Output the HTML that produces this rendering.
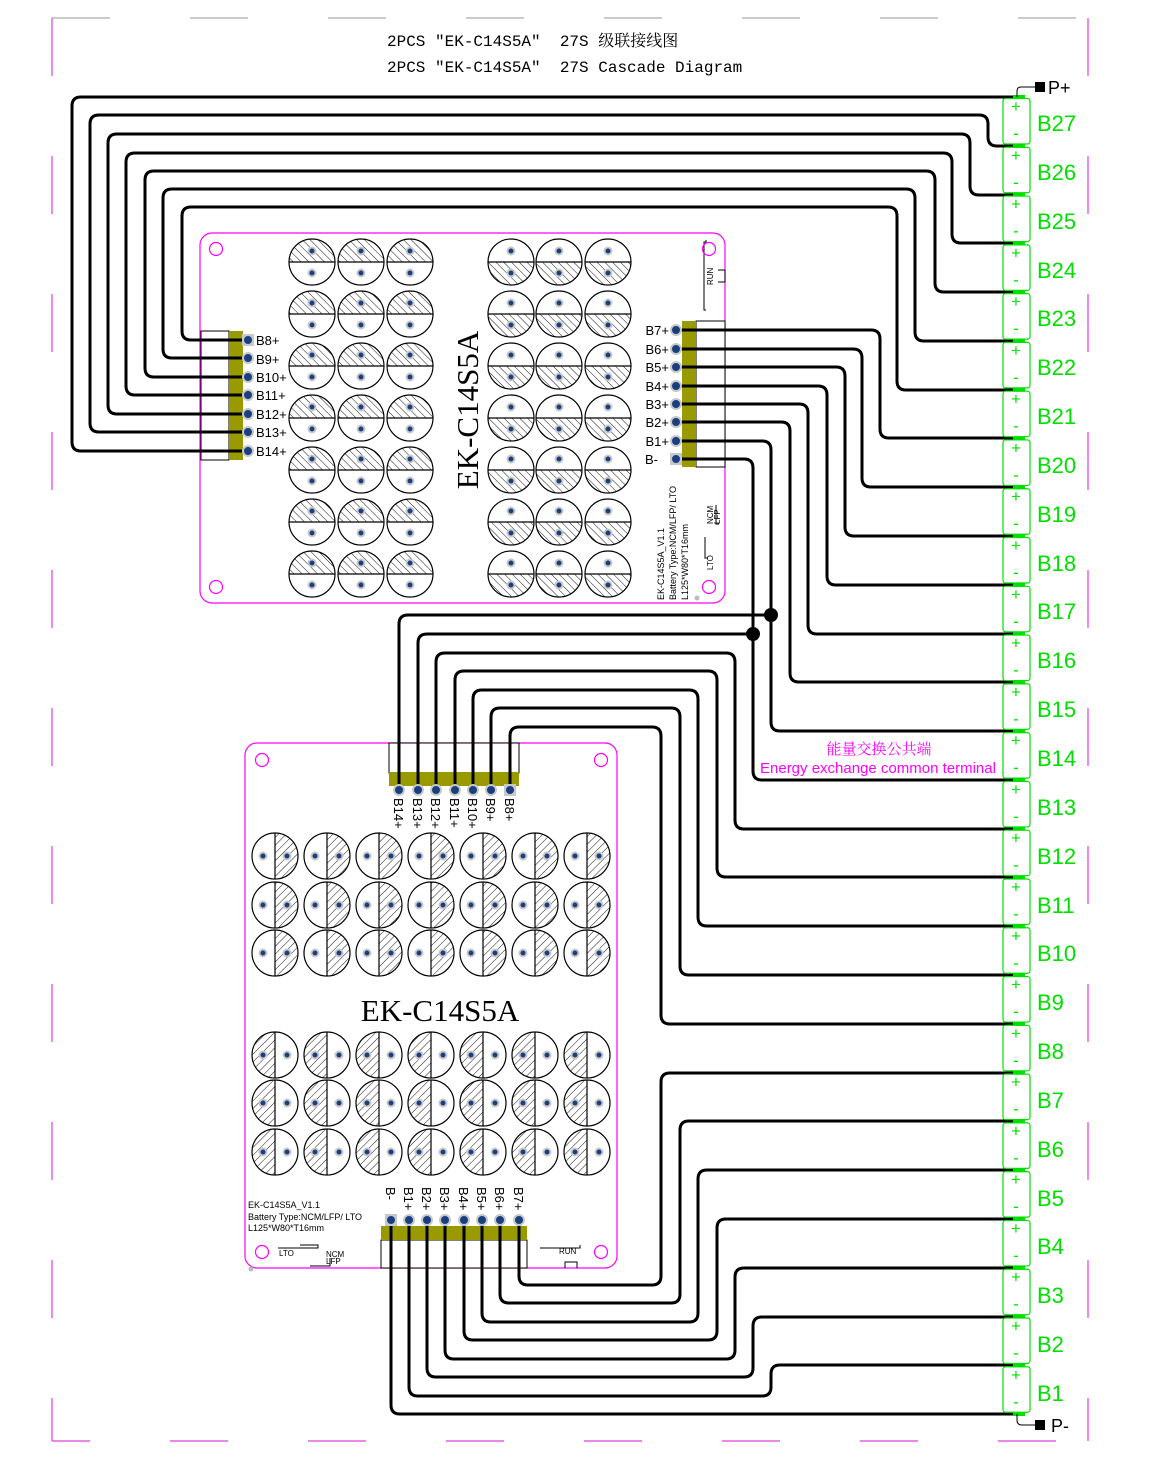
<!DOCTYPE html>
<html><head><meta charset="utf-8"><style>
html,body{margin:0;padding:0;background:#fff;}
svg{display:block;}
text{font-family:"Liberation Sans","Noto Sans CJK SC",sans-serif;}
</style></head><body>
<svg id="s" width="1159" height="1473" viewBox="0 0 1159 1473" xmlns="http://www.w3.org/2000/svg">
<defs>
<pattern id="hb" width="5.5" height="5.5" patternUnits="userSpaceOnUse" patternTransform="rotate(45)"><line x1="0" y1="0" x2="0" y2="5.5" stroke="#000" stroke-width="0.9"/></pattern>
<pattern id="hf" width="5.5" height="5.5" patternUnits="userSpaceOnUse" patternTransform="rotate(-45)"><line x1="0" y1="0" x2="0" y2="5.5" stroke="#000" stroke-width="0.9"/></pattern>
</defs>
<!-- frame -->
<g fill="none" stroke-width="1.2">
<line x1="52" y1="18" x2="1088" y2="18" stroke="#aaa" stroke-dasharray="58 80"/>
<line x1="52" y1="1441" x2="1088" y2="1441" stroke="#e040e0" stroke-dasharray="58 80" stroke-dashoffset="20"/>
<line x1="52" y1="18" x2="52" y2="1441" stroke="#e040e0" stroke-dasharray="58 80"/>
<line x1="1088" y1="18" x2="1088" y2="1441" stroke="#e040e0" stroke-dasharray="58 80"/>
</g>
<text x="387" y="46" style="font-family:'Liberation Mono','Noto Serif CJK SC',monospace" font-size="16">2PCS ″EK-C14S5A″&#160;&#160;27S 级联接线图</text>
<text x="387" y="72" style="font-family:'Liberation Mono','Noto Serif CJK SC',monospace" font-size="16">2PCS ″EK-C14S5A″&#160;&#160;27S Cascade Diagram</text>

<!-- boards -->
<rect x="200" y="233" width="525" height="370" rx="12" fill="#fff" stroke="#f0f" stroke-width="1.2"/>
<rect x="245" y="743" width="372" height="525" rx="12" fill="#fff" stroke="#f0f" stroke-width="1.2"/>
<g id="circ"></g>
<g id="b1conn"></g>
<g id="wires" fill="none" stroke="#000" stroke-width="3" stroke-linejoin="round"></g>

<!-- board texts -->
<text transform="translate(478,410) rotate(-90)" text-anchor="middle" font-size="31" style="font-family:'Liberation Serif',serif">EK-C14S5A</text>
<text x="440" y="1021" text-anchor="middle" font-size="31" style="font-family:'Liberation Serif',serif">EK-C14S5A</text>
<g font-size="9" fill="#000">
<text transform="translate(664,600) rotate(-90)">EK-C14S5A_V1.1</text>
<text transform="translate(676,600) rotate(-90)">Battery Type:NCM/LFP/ LTO</text>
<text transform="translate(688,600) rotate(-90)">L125*W80*T16mm</text>
<text transform="translate(713,285) rotate(-90)" font-size="8">RUN</text>
<text transform="translate(713,524) rotate(-90)" font-size="8">NCM</text>
<text transform="translate(720,524) rotate(-90)" font-size="8">LFP</text>
<text transform="translate(713,570) rotate(-90)" font-size="8">LTO</text>
<text x="248" y="1208">EK-C14S5A_V1.1</text>
<text x="248" y="1220">Battery Type:NCM/LFP/ LTO</text>
<text x="248" y="1231">L125*W80*T16mm</text>
<text x="279" y="1256" font-size="8">LTO</text>
<text x="326" y="1257" font-size="8">NCM</text>
<text x="326" y="1264" font-size="8">LFP</text>
<text x="559" y="1254" font-size="8">RUN</text>
</g>
<g stroke="#000" stroke-width="1" fill="none">
<polyline points="706,240 706,242 704,242 704,310 706,310"/>
<path d="M718,270 h7 v12 h-7"/>
<polyline points="705,537 705,558 708,558"/>
<polyline points="716,505 716,524 719,524"/>
<polyline points="278,1248 318,1248 318,1245 300,1245"/>
<polyline points="310,1266 330,1266 330,1258"/>
<polyline points="540,1248 580,1248 580,1245"/>
<path d="M565,1268 v-6 h12 v6"/>
</g>
<g fill="none" stroke="#f0f" stroke-width="1.2">
<circle cx="216" cy="249" r="6.5"/><circle cx="709" cy="249" r="6.5"/>
<circle cx="216" cy="587" r="6.5"/><circle cx="709" cy="587" r="6.5"/>
<circle cx="262" cy="760" r="6.5"/><circle cx="601" cy="760" r="6.5"/>
<circle cx="262" cy="1252" r="6.5"/><circle cx="601" cy="1252" r="6.5"/>
</g>
<circle cx="697" cy="598" r="2.5" fill="#bbb"/><circle cx="251" cy="1269" r="2.5" fill="#bbb"/>

<!-- pin labels -->
<g font-size="13" fill="#000">
<text x="256" y="345">B8+</text><text x="256" y="364">B9+</text><text x="256" y="382">B10+</text>
<text x="256" y="400">B11+</text><text x="256" y="419">B12+</text><text x="256" y="437">B13+</text><text x="256" y="456">B14+</text>
<g text-anchor="end">
<text x="669" y="335">B7+</text><text x="669" y="354">B6+</text><text x="669" y="372">B5+</text><text x="669" y="391">B4+</text>
<text x="669" y="409">B3+</text><text x="669" y="427">B2+</text><text x="669" y="446">B1+</text><text x="658" y="464">B-</text>
</g>
<text transform="translate(394,798) rotate(90)">B14+</text>
<text transform="translate(413,798) rotate(90)">B13+</text>
<text transform="translate(431,798) rotate(90)">B12+</text>
<text transform="translate(450,798) rotate(90)">B11+</text>
<text transform="translate(468,798) rotate(90)">B10+</text>
<text transform="translate(486,798) rotate(90)">B9+</text>
<text transform="translate(505,798) rotate(90)">B8+</text>
<text transform="translate(386,1187) rotate(90)">B-</text>
<text transform="translate(404,1187) rotate(90)">B1+</text>
<text transform="translate(422,1187) rotate(90)">B2+</text>
<text transform="translate(440,1187) rotate(90)">B3+</text>
<text transform="translate(459,1187) rotate(90)">B4+</text>
<text transform="translate(477,1187) rotate(90)">B5+</text>
<text transform="translate(495,1187) rotate(90)">B6+</text>
<text transform="translate(514,1187) rotate(90)">B7+</text>
</g>

<text x="879" y="754" text-anchor="middle" font-size="15" fill="#f0f" style="font-family:'Noto Serif CJK SC',serif">能量交换公共端</text>
<text x="760" y="773" font-size="15" fill="#f0f">Energy exchange common terminal</text>

<g id="cells"></g>
<g font-size="22" fill="#00e000">
<text x="1037" y="131">B27</text><text x="1037" y="180">B26</text><text x="1037" y="229">B25</text>
<text x="1037" y="278">B24</text><text x="1037" y="326">B23</text><text x="1037" y="375">B22</text>
<text x="1037" y="424">B21</text><text x="1037" y="473">B20</text><text x="1037" y="522">B19</text>
<text x="1037" y="571">B18</text><text x="1037" y="619">B17</text><text x="1037" y="668">B16</text>
<text x="1037" y="717">B15</text><text x="1037" y="766">B14</text><text x="1037" y="815">B13</text>
<text x="1037" y="864">B12</text><text x="1037" y="913">B11</text><text x="1037" y="961">B10</text>
<text x="1037" y="1010">B9</text><text x="1037" y="1059">B8</text><text x="1037" y="1108">B7</text>
<text x="1037" y="1157">B6</text><text x="1037" y="1206">B5</text><text x="1037" y="1254">B4</text>
<text x="1037" y="1303">B3</text><text x="1037" y="1352">B2</text><text x="1037" y="1401">B1</text>
</g>
<g id="pluses" font-size="17" fill="#00e000" text-anchor="middle"></g>
<!-- P+ P- -->
<path d="M1017,97 v-6 q0,-4 4,-4 h14" fill="none" stroke="#000" stroke-width="1"/>
<rect x="1035" y="82" width="10" height="10" fill="#000"/>
<text x="1048" y="94" font-size="18">P+</text>
<path d="M1017,1414 v6 q0,5 5,5 h13" fill="none" stroke="#000" stroke-width="1"/>
<rect x="1035" y="1420" width="10" height="10" fill="#000"/>
<text x="1051" y="1432" font-size="18">P-</text>
</svg>
<script>
var NS="http://www.w3.org/2000/svg";
function el(p,t,a){var e=document.createElementNS(NS,t);for(var k in a)e.setAttribute(k,a[k]);p.appendChild(e);return e;}
var C=document.getElementById('circ');
function cell(cx,cy,half,pat){
 var r=23,d;
 if(half=='top')d='M'+(cx-r)+','+cy+' A'+r+','+r+' 0 0 1 '+(cx+r)+','+cy+'Z';
 else if(half=='bot')d='M'+(cx-r)+','+cy+' A'+r+','+r+' 0 0 0 '+(cx+r)+','+cy+'Z';
 else if(half=='right')d='M'+cx+','+(cy-r)+' A'+r+','+r+' 0 0 1 '+cx+','+(cy+r)+'Z';
 else d='M'+cx+','+(cy-r)+' A'+r+','+r+' 0 0 0 '+cx+','+(cy+r)+'Z';
 el(C,'circle',{cx:cx,cy:cy,r:r,fill:'#fff',stroke:'#000','stroke-width':1.2});
 el(C,'path',{d:d,fill:'url(#'+pat+')',stroke:'none'});
 if(half=='top'||half=='bot'){
  el(C,'line',{x1:cx-r,y1:cy,x2:cx+r,y2:cy,stroke:'#000','stroke-width':1.2});
  [cy-11,cy+11].forEach(function(y){el(C,'circle',{cx:cx,cy:y,r:3.5,fill:'#1a3f80',stroke:'#c8c8c8','stroke-width':2});});
 }else{
  el(C,'line',{x1:cx,y1:cy-r,x2:cx,y2:cy+r,stroke:'#000','stroke-width':1.2});
  [cx-12,cx+12].forEach(function(x){el(C,'circle',{cx:x,cy:cy,r:3.5,fill:'#1a3f80',stroke:'#c8c8c8','stroke-width':2});});
 }
}
var rows1=[262,314,366,418,470,522,574];
rows1.forEach(function(y){[312,361,410].forEach(function(x){cell(x,y,'top','hf');});[511,559,608].forEach(function(x){cell(x,y,'bot','hf');});});
var cols2=[275,327,379,431,483,535,587];
[856,905,953].forEach(function(y){cols2.forEach(function(x){cell(x,y,'right','hb');});});
[1055,1103,1152].forEach(function(y){cols2.forEach(function(x){cell(x,y,'left','hb');});});

// connectors
var B=document.getElementById('b1conn');
el(B,'rect',{x:201,y:331,width:28,height:129,fill:'#fff',stroke:'#000','stroke-width':1});
el(B,'rect',{x:229,y:331,width:14,height:129,fill:'#999900'});
el(B,'rect',{x:696,y:321,width:29,height:146,fill:'#fff',stroke:'#000','stroke-width':1});
el(B,'rect',{x:682,y:321,width:14,height:146,fill:'#999900'});
el(B,'rect',{x:389,y:743,width:130,height:30,fill:'#fff',stroke:'#000','stroke-width':1});
el(B,'rect',{x:389,y:772,width:130,height:14,fill:'#999900'});
el(B,'rect',{x:381,y:1240,width:146,height:28,fill:'#fff',stroke:'#000','stroke-width':1});
el(B,'rect',{x:381,y:1226,width:146,height:14,fill:'#999900'});

var W=document.getElementById('wires');
function rp(pts){var R=9,d='M'+pts[0][0]+','+pts[0][1];
 for(var i=1;i<pts.length-1;i++){var p=pts[i-1],c=pts[i],n=pts[i+1];
  var dx1=Math.sign(c[0]-p[0]),dy1=Math.sign(c[1]-p[1]),dx2=Math.sign(n[0]-c[0]),dy2=Math.sign(n[1]-c[1]);
  var l1=Math.abs(c[0]-p[0])+Math.abs(c[1]-p[1]),l2=Math.abs(n[0]-c[0])+Math.abs(n[1]-c[1]);
  var r=Math.min(R,l1/2,l2/2);
  d+=' L'+(c[0]-dx1*r)+','+(c[1]-dy1*r)+' Q'+c[0]+','+c[1]+' '+(c[0]+dx2*r)+','+(c[1]+dy2*r);}
 var e=pts[pts.length-1];d+=' L'+e[0]+','+e[1];el(W,'path',{d:d});}
var J=[];for(var k=0;k<=27;k++)J.push(Math.round(97+48.78*k));
var EX=1017;
var pY=[451,432,414,395,377,358,340],LX=[72,90,108,126,145,163,182],TY=[97,115,134,153,171,189,207],RX=[0,988,970,952,935,915,897];
for(var i=0;i<7;i++){
 if(i==0)rp([[248,pY[0]],[72,pY[0]],[72,97],[EX,97]]);
 else rp([[248,pY[i]],[LX[i],pY[i]],[LX[i],TY[i]],[RX[i],TY[i]],[RX[i],J[i]],[EX,J[i]]]);
}
var rY=[330,349,367,386,404,422,441,459],rX=[880,862,845,827,808,790,771,753];
for(var i=0;i<8;i++)rp([[676,rY[i]],[rX[i],rY[i]],[rX[i],J[7+i]],[EX,J[7+i]]]);
var tX=[399,418,436,455,473,491,510],tY=[615,634,653,671,690,708,727],tR=[771,753,735,717,698,680,661];
for(var i=0;i<7;i++){
 if(i<2)rp([[tX[i],790],[tX[i],tY[i]],[tR[i],tY[i]]]);
 else rp([[tX[i],790],[tX[i],tY[i]],[tR[i],tY[i]],[tR[i],J[i+13]],[EX,J[i+13]]]);
}
el(W,'circle',{cx:771,cy:615,r:7,fill:'#000',stroke:'none'});
el(W,'circle',{cx:753,cy:634,r:7,fill:'#000',stroke:'none'});
var bX=[391,409,427,445,464,482,500,519],bY=[1414,1396,1377,1359,1340,1322,1303,1285],bR=[0,771,753,735,717,698,680,661];
for(var i=0;i<8;i++){
 if(i==0)rp([[391,1220],[391,1414],[EX,1414]]);
 else rp([[bX[i],1220],[bX[i],bY[i]],[bR[i],bY[i]],[bR[i],J[27-i]],[EX,J[27-i]]]);
}
function pin(x,y,sq){if(sq)el(W,'rect',{x:x-6,y:y-6,width:12,height:12,fill:'#c8c8c8',stroke:'none'});
 el(W,'circle',{cx:x,cy:y,r:5,fill:'#1a3f80',stroke:'#c8c8c8','stroke-width':2});}
pY.forEach(function(y,i){pin(248,y,i==6);});
rY.forEach(function(y,i){pin(676,y,i==7);});
tX.forEach(function(x,i){pin(x,790,i==6);});
bX.forEach(function(x,i){pin(x,1220,i==0);});
var CE=document.getElementById('cells'),PL=document.getElementById('pluses');
for(var k=0;k<27;k++){var t=97+48.78*k;
 el(CE,'rect',{x:1003,y:t+1.5,width:27,height:45.5,rx:2.5,fill:'none',stroke:'#00e000','stroke-width':1.2});
 el(CE,'rect',{x:1013,y:t-2,width:12,height:4,fill:'#00e000'});
 var a=el(PL,'text',{x:1016,y:t+15});a.textContent='+';
 var b=el(PL,'text',{x:1016,y:t+42});b.textContent='-';
}
el(CE,'rect',{x:1013,y:1412,width:12,height:4,fill:'#00e000'});
</script>
</body></html>
